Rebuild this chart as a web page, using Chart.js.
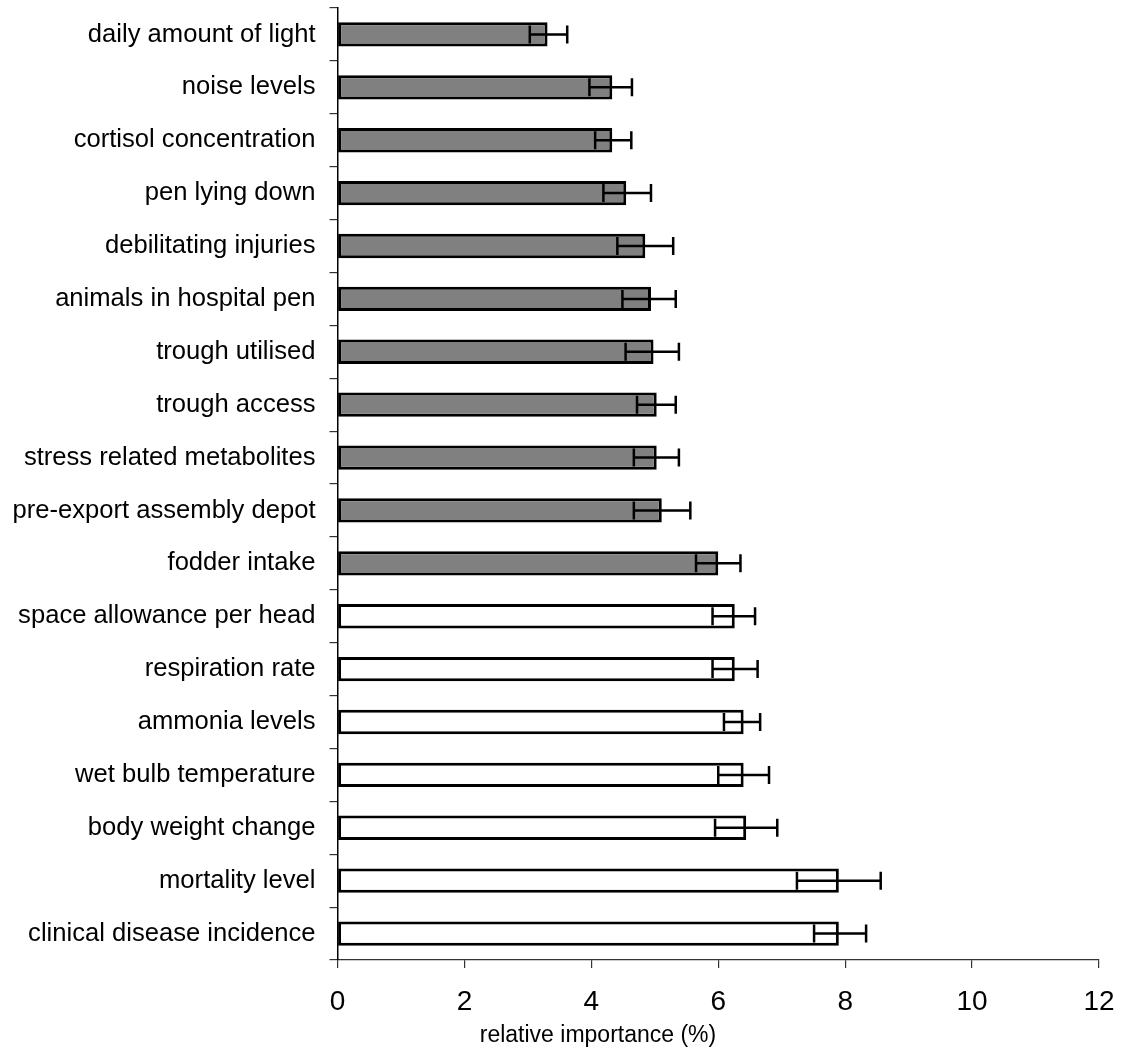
<!DOCTYPE html>
<html>
<head>
<meta charset="utf-8">
<style>
  html, body { margin: 0; padding: 0; background: #fff; }
  #wrap { width: 1127px; height: 1048px; position: relative; }
</style>
<script src="https://cdn.jsdelivr.net/npm/chart.js@4/dist/chart.umd.min.js"></script>
</head>
<body>
<div id="wrap"><canvas id="chart" width="1127" height="1048"></canvas></div>
<script>
// Indicators, top to bottom
const categories = [
  "daily amount of light",
  "noise levels",
  "cortisol concentration",
  "pen lying down",
  "debilitating injuries",
  "animals in hospital pen",
  "trough utilised",
  "trough access",
  "stress related metabolites",
  "pre-export assembly depot",
  "fodder intake",
  "space allowance per head",
  "respiration rate",
  "ammonia levels",
  "wet bulb temperature",
  "body weight change",
  "mortality level",
  "clinical disease incidence"
];

// Mean relative importance (%)
const importance = [3.31, 4.33, 4.33, 4.55, 4.85, 4.94, 4.98, 5.03, 5.03, 5.11, 6.00, 6.26, 6.26, 6.40, 6.40, 6.44, 7.90, 7.90];

// Error bar ends (%)
const errLow  = [3.03, 3.97, 4.06, 4.19, 4.41, 4.49, 4.54, 4.72, 4.67, 4.67, 5.65, 5.91, 5.91, 6.09, 6.00, 5.95, 7.24, 7.51];
const errHigh = [3.62, 4.64, 4.63, 4.94, 5.29, 5.33, 5.38, 5.33, 5.38, 5.56, 6.35, 6.58, 6.62, 6.66, 6.80, 6.93, 8.56, 8.33];

// Group membership: true = shaded group
const shaded = [true, true, true, true, true, true, true, true, true, true, true, false, false, false, false, false, false, false];

const xTicks = [0, 2, 4, 6, 8, 10, 12];
const xTitle = "relative importance (%)";

const FONT = "'Liberation Sans', Arial, Helvetica, sans-serif";

// Whiskers with end caps, drawn over each bar
const errorBars = {
  id: 'errorBars',
  afterDatasetsDraw(chart) {
    const ctx = chart.ctx;
    const xs = chart.scales.x;
    const meta = chart.getDatasetMeta(0);
    ctx.save();
    ctx.strokeStyle = '#000';
    ctx.lineWidth = 2.5;
    ctx.lineCap = 'butt';
    meta.data.forEach((bar, i) => {
      const y = bar.y;
      const x1 = xs.getPixelForValue(errLow[i]);
      const x2 = xs.getPixelForValue(errHigh[i]);
      const h = 9;
      ctx.beginPath();
      ctx.moveTo(x1, y); ctx.lineTo(x2, y);
      ctx.moveTo(x1, y - h); ctx.lineTo(x1, y + h);
      ctx.moveTo(x2, y - h); ctx.lineTo(x2, y + h);
      ctx.stroke();
    });
    ctx.restore();
  }
};

// Axis caption under the tick labels
const axisCaption = {
  id: 'axisCaption',
  afterDraw(chart) {
    const ctx = chart.ctx;
    ctx.save();
    ctx.font = '23px ' + FONT;
    ctx.fillStyle = '#000';
    ctx.textAlign = 'center';
    ctx.textBaseline = 'middle';
    ctx.fillText(xTitle, 598, 1036);
    ctx.restore();
  }
};

new Chart(document.getElementById('chart'), {
  type: 'bar',
  data: {
    labels: categories,
    datasets: [{
      data: importance,
      backgroundColor: shaded.map(s => s ? '#808080' : '#ffffff'),
      borderColor: '#000000',
      borderWidth: 3,
      borderSkipped: false,
      categoryPercentage: 1.0,
      barPercentage: 0.46
    }]
  },
  options: {
    indexAxis: 'y',
    responsive: false,
    animation: false,
    devicePixelRatio: 1,
    layout: { padding: { top: 8, right: 28, left: 0, bottom: 0 } },
    plugins: {
      legend: { display: false },
      tooltip: { enabled: false }
    },
    scales: {
      x: {
        min: 0,
        max: 12,
        afterBuildTicks(scale) { scale.ticks = xTicks.map(v => ({ value: v })); },
        afterFit(scale) {
          scale.height = 88;
          scale.paddingLeft = 0;
          scale.paddingRight = 0;
        },
        border: { display: true, color: '#333', width: 1.2 },
        grid: { display: true, drawOnChartArea: false, drawTicks: true, tickLength: 8, color: '#333', lineWidth: 1.2 },
        ticks: {
          color: '#000',
          padding: 17,
          font: { family: FONT, size: 28 }
        }
      },
      y: {
        afterFit(scale) {
          scale.width = 337.5;
          scale.paddingTop = 0;
          scale.paddingBottom = 0;
        },
        border: { display: true, color: '#000', width: 1.5 },
        grid: { display: true, offset: true, drawOnChartArea: false, drawTicks: true, tickLength: 8, color: '#333', lineWidth: 1.2 },
        ticks: {
          color: '#000',
          padding: 14,
          autoSkip: false,
          font: { family: FONT, size: 25.6 }
        }
      }
    }
  },
  plugins: [errorBars, axisCaption]
});
</script>
</body>
</html>
